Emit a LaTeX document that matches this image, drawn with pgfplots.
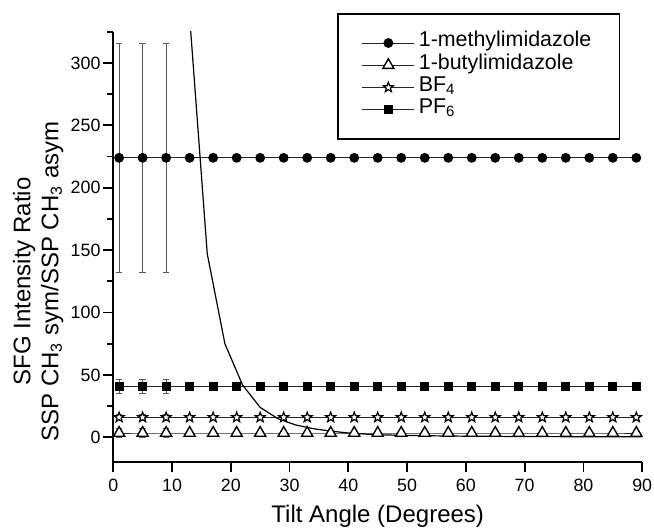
\documentclass[border=0pt]{standalone}
\usepackage{fontspec}
\setmainfont{Liberation Sans}
\usepackage{pgfplots}
\usepackage{pgfplotstable}
\pgfplotsset{compat=1.18}
\usetikzlibrary{calc}

% open five-point star
\pgfdeclareplotmark{ostar}{%
  \pgfpathmoveto{\pgfpointpolar{90}{\pgfplotmarksize}}%
  \pgfpathlineto{\pgfpointpolar{126}{0.42\pgfplotmarksize}}%
  \pgfpathlineto{\pgfpointpolar{162}{\pgfplotmarksize}}%
  \pgfpathlineto{\pgfpointpolar{198}{0.42\pgfplotmarksize}}%
  \pgfpathlineto{\pgfpointpolar{234}{\pgfplotmarksize}}%
  \pgfpathlineto{\pgfpointpolar{270}{0.42\pgfplotmarksize}}%
  \pgfpathlineto{\pgfpointpolar{306}{\pgfplotmarksize}}%
  \pgfpathlineto{\pgfpointpolar{342}{0.42\pgfplotmarksize}}%
  \pgfpathlineto{\pgfpointpolar{18}{\pgfplotmarksize}}%
  \pgfpathlineto{\pgfpointpolar{54}{0.42\pgfplotmarksize}}%
  \pgfpathclose
  \pgfusepathqfillstroke}

% tilt angle vs. intensity ratio for each species
\pgfplotstableread{
x  methyl butyl bf  pf
1  224    3.5   16  41
5  224    3.5   16  41
9  224    3.5   16  41
13 224    3.5   16  41
17 224    3.5   16  41
21 224    3.5   16  41
25 224    3.5   16  41
29 224    3.5   16  41
33 224    3.5   16  41
37 224    3.5   16  41
41 224    3.5   16  41
45 224    3.5   16  41
49 224    3.5   16  41
53 224    3.5   16  41
57 224    3.5   16  41
61 224    3.5   16  41
65 224    3.5   16  41
69 224    3.5   16  41
73 224    3.5   16  41
77 224    3.5   16  41
81 224    3.5   16  41
85 224    3.5   16  41
89 224    3.5   16  41
}\datatab

% error bars, first three angles only
\pgfplotstableread{
x methyl em butyl eb bf ebf pf epf
1 224    92 3.5   4  16 2.5 41 5.5
5 224    92 3.5   4  16 2.5 41 5.5
9 224    92 3.5   4  16 2.5 41 5.5
}\errtab

% calculated curve
\pgfplotstableread{
x  r
10 620
13 337
16 147
19 75
22 42
25 24
28 15
31 10
34 7
37 5
40 3.5
43 2.6
46 2.0
49 1.6
55 1.2
61 0.9
70 0.7
80 0.5
90 0.4
}\curvetab

\begin{document}
\begin{tikzpicture}
\begin{axis}[
    name=ax,
    scale only axis,
    width=264.4pt, height=215.2pt,
    xmin=0, xmax=90, ymin=-20, ymax=325,
    axis lines=left,
    axis line style={-, line width=0.9pt},
    every tick/.style={black, line width=0.9pt},
    tick align=outside,
    major tick length=5pt,
    minor tick length=3pt,
    xtick={0,10,...,90},
    ytick={0,50,...,300},
    minor ytick={-25,25,75,...,325},
    /pgf/number format/assume math mode=true,
    ticklabel style={font=\fontsize{8.9}{10}\selectfont},
    yticklabel style={inner xsep=1.2pt},
    xlabel={Tilt Angle (Degrees)},
    xlabel style={font=\fontsize{12}{14}\selectfont, at={(axis description cs:0.5,-0.125)}, anchor=center},
    ylabel={SFG Intensity Ratio\\SSP CH\textsubscript{3} sym/SSP CH\textsubscript{3} asym},
    ylabel style={font=\fontsize{12}{14}\selectfont, align=center, at={(axis description cs:-0.142,0.42)}, anchor=center},
    legend style={
        at={(0.9584,1.0434)}, anchor=north east,
        draw=black, line width=0.8pt,
        inner xsep=12pt, inner ysep=9pt,
        font=\fontsize{10.7}{11.2}\selectfont,
        nodes={text height=7.3pt, text depth=3.4pt, inner ysep=0.2pt},
        row sep=0pt,
    },
    legend cell align=left,
    legend image code/.code={
        \draw[mark repeat=2, mark phase=2, line width=0.5pt]
            plot coordinates {(0pt,0pt) (13pt,0pt) (26pt,0pt)};
    },
    error bars/y dir=both,
    error bars/y explicit,
    error bars/error bar style={black!65, line width=0.5pt},
    error bars/error mark options={rotate=90, mark size=1.6pt, black!65, line width=0.5pt},
]
% main series
\addplot[black!85, line width=0.5pt, mark=*, mark size=2.2pt, mark options={solid, draw=black, fill=black}]
    table[x=x, y=methyl] {\datatab};
\addplot[black!85, line width=0.5pt, mark=triangle*, mark size=3.2pt, mark options={solid, draw=black, fill=white, line width=0.7pt}]
    table[x=x, y=butyl] {\datatab};
\addplot[black!85, line width=0.5pt, mark=ostar, mark size=2.6pt, mark options={solid, draw=black, fill=white, line width=0.6pt}]
    table[x=x, y=bf] {\datatab};
\addplot[black!85, line width=0.5pt, mark=square*, mark size=2.0pt, mark options={solid, draw=black, fill=black}]
    table[x=x, y=pf] {\datatab};
\legend{1-methylimidazole, 1-butylimidazole, BF\textsubscript{4}, PF\textsubscript{6}}

% error bars on first three points
\addplot[forget plot, draw=none, mark=none] table[x=x, y=methyl, y error=em] {\errtab};
\addplot[forget plot, draw=none, mark=none] table[x=x, y=butyl, y error=eb] {\errtab};
\addplot[forget plot, draw=none, mark=none] table[x=x, y=bf, y error=ebf] {\errtab};
\addplot[forget plot, draw=none, mark=none] table[x=x, y=pf, y error=epf] {\errtab};

% calculated curve
\addplot[forget plot, black, line width=0.6pt, mark=none] table[x=x, y=r] {\curvetab};
\end{axis}
\pgfresetboundingbox
\path ($(ax.south west)+(-56.6pt,-32.5pt)$) rectangle ($(ax.north east)+(5.9pt,15.9pt)$);
\end{tikzpicture}
\end{document}
